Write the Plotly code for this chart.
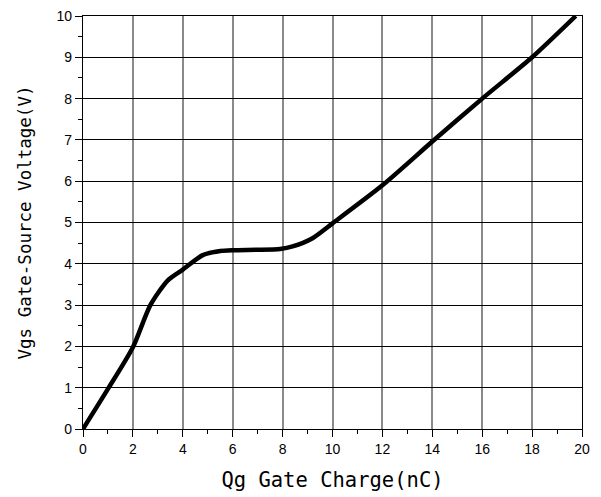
import plotly.graph_objects as go

# Gate charge curve
qg_nc = [0, 1, 2, 2.7, 3.4, 4.0, 4.8, 5.5, 6.0, 7.0, 7.9, 8.4, 9.2, 10.0, 12.0, 14.0, 16.0, 18.0, 19.75]
vgs_v = [0, 0.97, 1.98, 3.0, 3.6, 3.86, 4.21, 4.31, 4.33, 4.34, 4.36, 4.42, 4.62, 4.98, 5.9, 6.96, 8.0, 9.0, 10.0]

x_ticks = [0, 2, 4, 6, 8, 10, 12, 14, 16, 18, 20]
y_ticks = [0, 1, 2, 3, 4, 5, 6, 7, 8, 9, 10]

fig = go.Figure()
fig.add_trace(go.Scatter(
    x=qg_nc, y=vgs_v, mode="lines",
    line=dict(color="black", width=4.5, shape="spline", smoothing=0.7),
    showlegend=False, hoverinfo="skip",
))

# page body has an 8px default margin, so the figure is sized to fit inside the window
fig.update_layout(
    width=593, height=489,
    margin=dict(l=75, r=19, t=8, b=68),
    paper_bgcolor="white", plot_bgcolor="white",
    font=dict(family="Liberation Sans, Arial, sans-serif", size=14, color="black"),
)

fig.update_xaxes(
    range=[0, 20], tickvals=x_ticks, ticktext=[str(v) for v in x_ticks],
    automargin=False, ticklabeloverflow="allow",
    ticks="outside", ticklen=7, tickwidth=1, tickcolor="black",
    minor=dict(ticks="outside", ticklen=4, tickwidth=1, tickcolor="black", dtick=1, tick0=0, showgrid=False),
    showgrid=True, gridcolor="#8a8a8a", gridwidth=1.6,
    showline=True, linecolor="black", linewidth=1.2, mirror=True,
    zeroline=False,
    tickfont=dict(size=14, family="Liberation Sans, Arial, sans-serif"),
    title=dict(text="Qg Gate Charge(nC)", standoff=16,
               font=dict(family="DejaVu Sans Mono, monospace", size=20.5)),
)

fig.update_yaxes(
    range=[0, 10], tickvals=y_ticks, ticktext=[str(v) for v in y_ticks],
    automargin=False, ticklabeloverflow="allow",
    ticks="outside", ticklen=7, tickwidth=1, tickcolor="black",
    minor=dict(ticks="outside", ticklen=4, tickwidth=1, tickcolor="black", dtick=0.5, tick0=0, showgrid=False),
    showgrid=True, gridcolor="black", gridwidth=1,
    showline=True, linecolor="black", linewidth=1.2, mirror=True,
    zeroline=False,
    tickfont=dict(size=14, family="Liberation Sans, Arial, sans-serif"),
    title=dict(text="Vgs Gate-Source Voltage(V)", standoff=20,
               font=dict(family="DejaVu Sans Mono, monospace", size=17.5)),
)

fig.write_html("out.html")
